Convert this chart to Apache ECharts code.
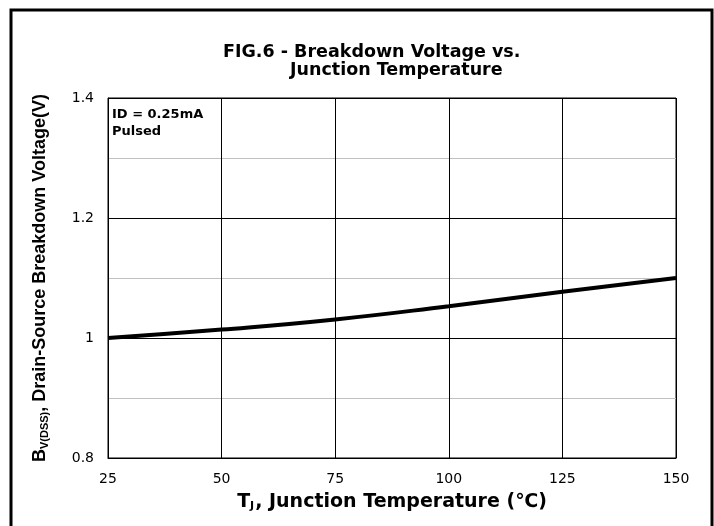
<!DOCTYPE html>
<html>
<head>
<meta charset="utf-8">
<script src="https://cdn.jsdelivr.net/npm/echarts@6/dist/echarts.min.js"></script>
<style>
  html, body { margin: 0; padding: 0; background: #fff; }
  #chart { width: 714px; height: 526px; }
</style>
</head>
<body>
<div id="chart"></div>
<script>
// junction temperature (°C) and normalised breakdown voltage
const tempC = [25, 50, 75, 100, 125, 150]
const bvdss = [1.0, 1.014, 1.031, 1.053, 1.077, 1.1]
const xTicks = [25, 50, 75, 100, 125, 150]
const yTickLabels = ['0.8', '1', '1.2', '1.4']

// the source picture is a bit stretched sideways, so the wider DejaVu face
// is used for horizontal text and Liberation (Arial metrics) for the rotated name
const WIDE = '"DejaVu Sans", sans-serif'
const NARROW = '"Liberation Sans", Arial, sans-serif'

const chart = echarts.init(document.getElementById('chart'))

const option = {
  backgroundColor: '#fff',
  animation: false,
  title: [
    {
      text: 'FIG.6 - Breakdown Voltage vs.',
      left: 223,
      top: 43,
      padding: 0,
      textStyle: { fontFamily: WIDE, fontSize: 17.5, fontWeight: 'bold', color: '#000' },
    },
    {
      text: 'Junction Temperature',
      left: 290,
      top: 61,
      padding: 0,
      textStyle: { fontFamily: WIDE, fontSize: 17.5, fontWeight: 'bold', color: '#000' },
    },
  ],
  grid: {
    left: 108,
    right: 38,
    top: 98,
    bottom: 68,
    show: true,
    borderColor: '#000',
    borderWidth: 1,
    backgroundColor: 'transparent',
  },
  xAxis: {
    type: 'value',
    min: xTicks[0],
    max: xTicks[xTicks.length - 1],
    interval: 25,
    name: '{b|T}{s|J}{b|, Junction Temperature (℃)}',
    nameLocation: 'middle',
    nameGap: 35,
    nameTextStyle: {
      rich: {
        b: { fontFamily: WIDE, fontSize: 19, fontWeight: 'bold', color: '#000' },
        s: { fontFamily: WIDE, fontSize: 11, fontWeight: 'bold', color: '#000', verticalAlign: 'bottom', padding: [8, 1, 0, 0] },
      },
    },
    axisLine: { show: true, lineStyle: { color: '#000', width: 1 } },
    axisTick: { show: false },
    axisLabel: {
      margin: 14,
      fontFamily: WIDE,
      fontSize: 14,
      color: '#000',
    },
    splitLine: { show: true, lineStyle: { color: '#000', width: 1 } },
  },
  yAxis: {
    type: 'value',
    min: 0.8,
    max: 1.4,
    interval: 0.1,
    name: '{b|B}{s|V(DSS)}{b|, Drain-Source Breakdown Voltage(V)}',
    nameLocation: 'middle',
    nameGap: 58,
    nameRotate: 90,
    nameTextStyle: {
      rich: {
        b: { fontFamily: NARROW, fontSize: 18, fontWeight: 'bold', color: '#000' },
        s: { fontFamily: NARROW, fontSize: 11, fontWeight: 'bold', color: '#000', verticalAlign: 'bottom', padding: [8, 0, 0, 0] },
      },
    },
    axisLine: { show: true, lineStyle: { color: '#000', width: 1 } },
    axisTick: { show: false },
    axisLabel: {
      margin: 14,
      fontFamily: WIDE,
      fontSize: 14,
      color: '#000',
      formatter: function (v) {
        const s = String(+v.toFixed(1))
        return yTickLabels.indexOf(s) >= 0 ? s : ''
      },
    },
    splitLine: { show: true, lineStyle: { color: ['#000', '#c0c0c0'], width: 1 } },
  },
  graphic: [
    {
      type: 'rect',
      shape: { x: 11, y: 10, width: 701, height: 530 },
      style: { fill: 'none', stroke: '#000', lineWidth: 3 },
      z: 100,
    },
    {
      type: 'text',
      left: 112,
      top: 106,
      style: {
        text: 'ID = 0.25mA\nPulsed',
        font: 'bold 13px ' + WIDE,
        fill: '#000',
        lineHeight: 17,
      },
      z: 100,
    },
  ],
  series: [
    {
      type: 'line',
      data: tempC.map((t, i) => [t, bvdss[i]]),
      smooth: true,
      showSymbol: false,
      lineStyle: { color: '#000', width: 4 },
      z: 10,
    },
  ],
}

chart.setOption(option)
</script>
</body>
</html>
